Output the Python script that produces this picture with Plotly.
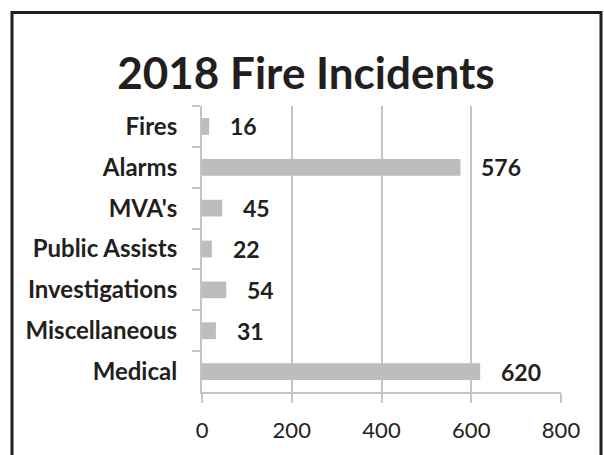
import plotly.graph_objects as go

# Incident categories and yearly counts
categories = ["Fires", "Alarms", "MVA's", "Public Assists", "Investigations", "Miscellaneous", "Medical"]
counts = [16, 576, 45, 22, 54, 31, 620]
x_ticks = [0, 200, 400, 600, 800]

W, H = 604, 455
ML, MR, MT, MB = 202, 43, 106, 57
PW, PH = W - ML - MR, H - MT - MB

TEXT = "#231F20"
GRID = "#C4C4C6"
BAR = "#BDBDBF"
FONT = "Lato"

fig = go.Figure()
fig.add_trace(go.Bar(
    x=counts,
    y=categories,
    orientation="h",
    marker=dict(color=BAR, line=dict(width=0)),
    width=0.41,
    hoverinfo="skip",
))

# value labels to the right of each bar
for c, v in zip(categories, counts):
    fig.add_annotation(
        x=v, y=c, xref="x", yref="y",
        text=str(v), showarrow=False,
        xanchor="left", yanchor="middle", xshift=19,
        font=dict(family=FONT, size=23, color=TEXT, weight="bold"),
    )

# outer frame
def px_to_paper_x(px):
    return (px - ML) / PW

def px_to_paper_y(py):
    return (H - MB - py) / PH

fig.add_shape(
    type="rect", xref="paper", yref="paper",
    x0=px_to_paper_x(12), x1=px_to_paper_x(601),
    y0=px_to_paper_y(470), y1=px_to_paper_y(10.5),
    line=dict(color=TEXT, width=3), fillcolor="rgba(0,0,0,0)", layer="above",
)

fig.update_layout(
    width=W, height=H,
    margin=dict(l=ML, r=MR, t=MT, b=MB),
    paper_bgcolor="white", plot_bgcolor="white",
    showlegend=False,
    title=dict(
        text="<b>2018 Fire Incidents</b>",
        x=306 / W, xanchor="center", xref="container",
        y=1 - 74 / H, yanchor="middle", yref="container",
        font=dict(family=FONT, size=44, color=TEXT),
    ),
    xaxis=dict(
        range=[0, 800], tickvals=x_ticks,
        showgrid=True, gridcolor=GRID, gridwidth=2,
        zeroline=False,
        showline=True, linecolor=GRID, linewidth=2,
        ticks="outside", ticklen=9, tickcolor=GRID, tickwidth=2,
        tickfont=dict(family=FONT, size=22, color=TEXT),
        ticklabelstandoff=9,
    ),
    yaxis=dict(
        categoryorder="array", categoryarray=categories,
        autorange="reversed",
        showgrid=False, zeroline=False,
        showline=True, linecolor=GRID, linewidth=2,
        ticks="outside", ticklen=8, tickcolor=GRID, tickwidth=2,
        tickson="boundaries",
        tickfont=dict(family=FONT, size=24, color=TEXT, weight="bold"),
        ticklabelstandoff=18,
    ),
)

fig.write_html("out.html")
